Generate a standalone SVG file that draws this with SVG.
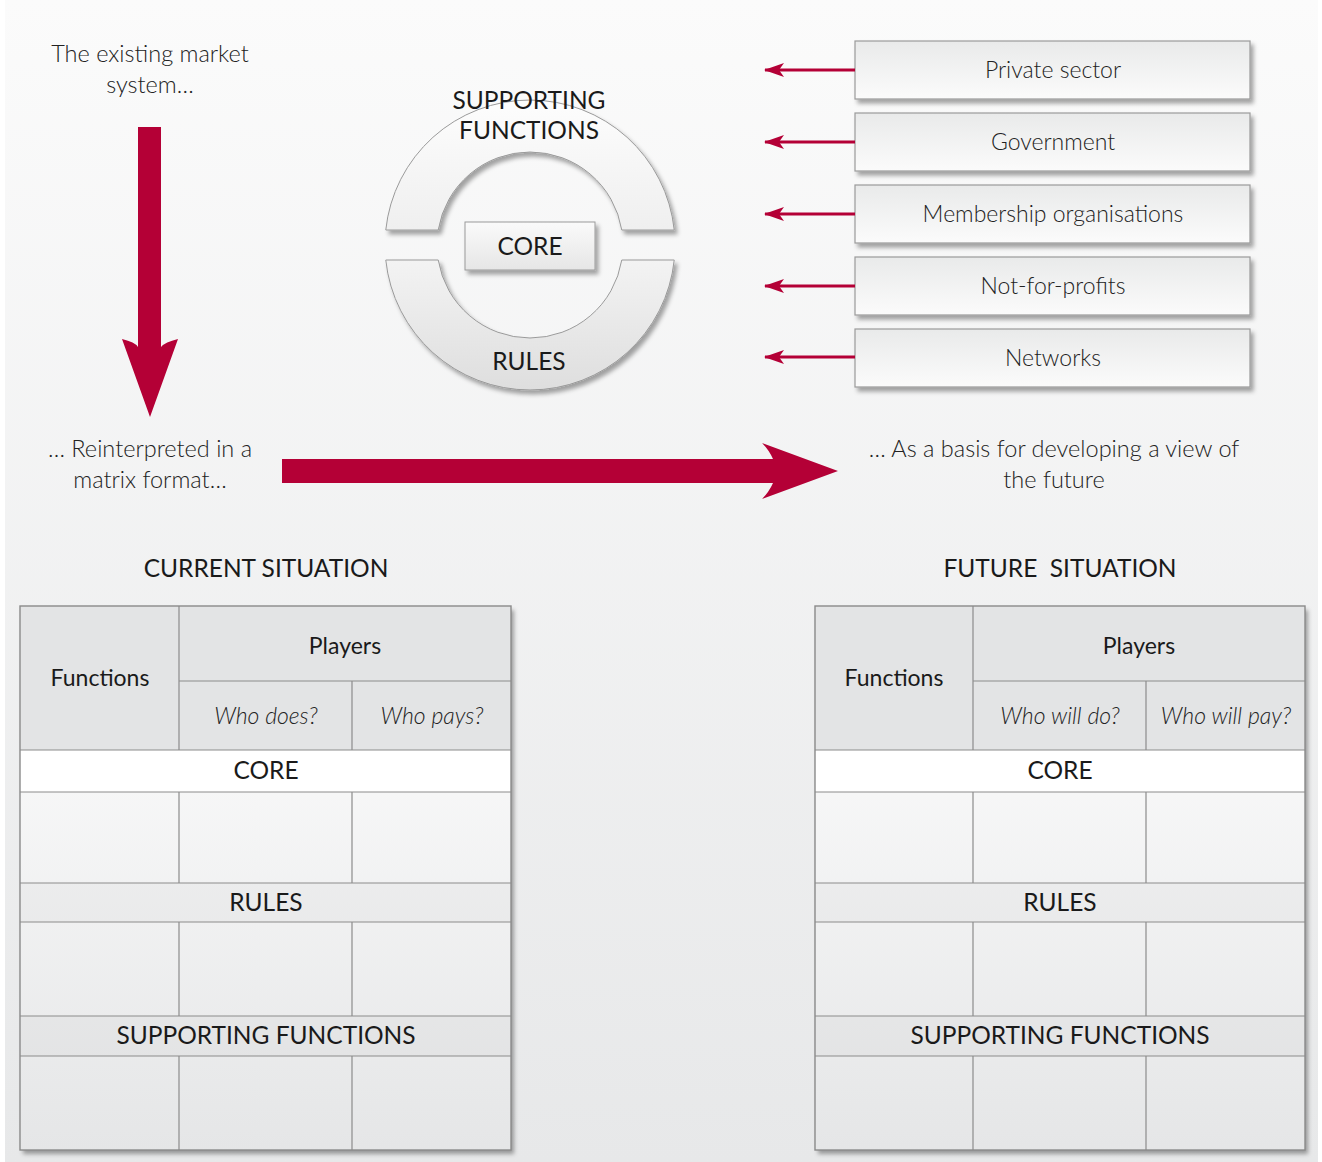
<svg xmlns="http://www.w3.org/2000/svg" width="1322" height="1162" viewBox="0 0 1322 1162">
<defs>
<linearGradient id="bg" x1="0" y1="0" x2="0" y2="1">
<stop offset="0" stop-color="#fbfbfb"/>
<stop offset="1" stop-color="#e7e8e9"/>
</linearGradient>
<linearGradient id="boxg" x1="0" y1="0" x2="0" y2="1">
<stop offset="0" stop-color="#e9eaea"/>
<stop offset="1" stop-color="#fbfbfb"/>
</linearGradient>
<linearGradient id="upg" x1="0" y1="0" x2="0" y2="1">
<stop offset="0" stop-color="#fdfdfd"/>
<stop offset="1" stop-color="#efefef"/>
</linearGradient>
<linearGradient id="lowg" x1="0" y1="0" x2="0" y2="1">
<stop offset="0" stop-color="#f3f3f3"/>
<stop offset="1" stop-color="#dedede"/>
</linearGradient>
<linearGradient id="coreg" x1="0" y1="0" x2="0" y2="1">
<stop offset="0" stop-color="#fafafa"/>
<stop offset="1" stop-color="#e6e6e6"/>
</linearGradient>
<linearGradient id="tabg" gradientUnits="userSpaceOnUse" x1="0" y1="606" x2="0" y2="1150">
<stop offset="0" stop-color="#ffffff"/>
<stop offset="1" stop-color="#e5e6e7"/>
</linearGradient>
<filter id="sh" x="-10%" y="-10%" width="125%" height="130%">
<feDropShadow dx="3" dy="4" stdDeviation="2" flood-color="#000" flood-opacity="0.35"/>
</filter>
<marker id="ah" markerUnits="userSpaceOnUse" markerWidth="20" markerHeight="14" viewBox="0 0 20 14" refX="19" refY="7" orient="auto">
<path d="M0,0 L20,7 L0,14 L5,7 Z" fill="#b40036"/>
</marker>
<style>
.lt{font-family:Lato,"Open Sans","DejaVu Sans",sans-serif;font-weight:300;fill:#222;font-size:23.5px;text-anchor:middle}
.bx{font-family:Lato,"Open Sans","DejaVu Sans",sans-serif;font-weight:300;fill:#222;font-size:23px;text-anchor:middle}
.md{font-family:Lato,"Open Sans","DejaVu Sans",sans-serif;font-weight:400;fill:#1a1a1a;font-size:24.5px;text-anchor:middle}
.hd{font-family:Lato,"Open Sans","DejaVu Sans",sans-serif;font-weight:400;fill:#1a1a1a;font-size:23px;text-anchor:middle}
.it{font-family:Lato,"Open Sans","DejaVu Sans",sans-serif;font-weight:300;font-style:italic;fill:#222;font-size:23px;text-anchor:middle}
.box{fill:url(#boxg);stroke:#9a9a9a;stroke-width:1.2;filter:url(#sh)}
.conn{stroke:#b40036;stroke-width:3;fill:none;marker-end:url(#ah)}
.grid{stroke:#8c8c8c;stroke-width:1.2;fill:none}
.big{fill:#b40036}
</style>
</defs>
<rect x="0" y="0" width="1322" height="1162" fill="#ffffff"/>
<rect x="5" y="0" width="1313" height="1162" fill="url(#bg)"/>

<g id="intro-text">
<text class="lt" x="150" y="62">The existing market</text>
<text class="lt" x="150" y="93">system…</text>
</g>
<g id="reinterpreted-text">
<text class="lt" x="150" y="457">… Reinterpreted in a</text>
<text class="lt" x="150" y="488">matrix format…</text>
</g>
<g id="future-text">
<text class="lt" x="1054" y="457">… As a basis for developing a view of</text>
<text class="lt" x="1054" y="488">the future</text>
</g>

<g id="big-arrows">
<path class="big" d="M138,127 L161,127 L161,347 Q165,342 178,339 L150,417 L122,339 Q135,342 138,347 Z"/>
<path class="big" d="M282,459 L773,459 Q769,450 762,443 L838,471 L762,499 Q769,492 773,483 L282,483 Z"/>
</g>

<g id="market-system">
<g id="supporting-ring" filter="url(#sh)">
<path d="M385.78,230 A145,145 0 0 1 674.22,230 L621.78,230 A93,93 0 0 0 438.22,230 Z" fill="url(#upg)" stroke="#9a9a9a" stroke-width="1"/>
</g>
<g id="rules-ring" filter="url(#sh)">
<path d="M385.78,260 A145,145 0 0 0 674.22,260 L621.78,260 A93,93 0 0 1 438.22,260 Z" fill="url(#lowg)" stroke="#9a9a9a" stroke-width="1"/>
</g>
<text class="md" x="529" y="109">SUPPORTING</text>
<text class="md" x="529" y="139">FUNCTIONS</text>
<text class="md" x="529" y="370">RULES</text>
<g id="core-box">
<rect x="465" y="222" width="130" height="48" fill="url(#coreg)" stroke="#9a9a9a" stroke-width="1" filter="url(#sh)"/>
<text class="md" x="530" y="255">CORE</text>
</g>
</g>

<g id="player-private"><rect class="box" x="855" y="41" width="395" height="58"/><text class="bx" x="1053" y="78">Private sector</text></g>
<g id="player-government"><rect class="box" x="855" y="113" width="395" height="58"/><text class="bx" x="1053" y="150">Government</text></g>
<g id="player-membership"><rect class="box" x="855" y="185" width="395" height="58"/><text class="bx" x="1053" y="222">Membership organisations</text></g>
<g id="player-nfp"><rect class="box" x="855" y="257" width="395" height="58"/><text class="bx" x="1053" y="294">Not-for-profits</text></g>
<g id="player-networks"><rect class="box" x="855" y="329" width="395" height="58"/><text class="bx" x="1053" y="366">Networks</text></g>

<g id="connectors">
<line class="conn" x1="855" y1="70" x2="765" y2="70"/>
<line class="conn" x1="855" y1="142" x2="765" y2="142"/>
<line class="conn" x1="855" y1="214" x2="765" y2="214"/>
<line class="conn" x1="855" y1="286" x2="765" y2="286"/>
<line class="conn" x1="855" y1="357" x2="765" y2="357"/>
</g>

<g id="current-table">
<text class="md" x="266" y="577">CURRENT SITUATION</text>
<rect x="20" y="606" width="491" height="544" fill="url(#tabg)" filter="url(#sh)"/>
<rect x="20" y="606" width="491" height="144" fill="#e3e4e5"/>
<rect x="20" y="750" width="491" height="42" fill="#ffffff"/>
<rect x="20" y="883" width="491" height="39" fill="#000" fill-opacity="0.025"/>
<rect x="20" y="1016" width="491" height="40" fill="#000" fill-opacity="0.025"/>
<path class="grid" d="M179,606 V750 M179,681 H511 M352,681 V750 M20,750 H511 M20,792 H511 M179,792 V883 M352,792 V883 M20,883 H511 M20,922 H511 M179,922 V1016 M352,922 V1016 M20,1016 H511 M20,1056 H511 M179,1056 V1150 M352,1056 V1150"/>
<rect x="20" y="606" width="491" height="544" fill="none" stroke="#8a8a8a" stroke-width="1.4"/>
<text class="hd" x="100" y="686">Functions</text>
<text class="hd" x="345" y="654">Players</text>
<text class="it" x="266" y="724">Who does?</text>
<text class="it" x="432" y="724">Who pays?</text>
<text class="md" x="266" y="779">CORE</text>
<text class="md" x="266" y="911">RULES</text>
<text class="md" x="266" y="1044">SUPPORTING FUNCTIONS</text>
</g>

<g id="future-table">
<text class="md" x="1060" y="577" xml:space="preserve">FUTURE  SITUATION</text>
<rect x="815" y="606" width="490" height="544" fill="url(#tabg)" filter="url(#sh)"/>
<rect x="815" y="606" width="490" height="144" fill="#e3e4e5"/>
<rect x="815" y="750" width="490" height="42" fill="#ffffff"/>
<rect x="815" y="883" width="490" height="39" fill="#000" fill-opacity="0.025"/>
<rect x="815" y="1016" width="490" height="40" fill="#000" fill-opacity="0.025"/>
<path class="grid" d="M973,606 V750 M973,681 H1305 M1146,681 V750 M815,750 H1305 M815,792 H1305 M973,792 V883 M1146,792 V883 M815,883 H1305 M815,922 H1305 M973,922 V1016 M1146,922 V1016 M815,1016 H1305 M815,1056 H1305 M973,1056 V1150 M1146,1056 V1150"/>
<rect x="815" y="606" width="490" height="544" fill="none" stroke="#8a8a8a" stroke-width="1.4"/>
<text class="hd" x="894" y="686">Functions</text>
<text class="hd" x="1139" y="654">Players</text>
<text class="it" x="1060" y="724">Who will do?</text>
<text class="it" x="1226" y="724">Who will pay?</text>
<text class="md" x="1060" y="779">CORE</text>
<text class="md" x="1060" y="911">RULES</text>
<text class="md" x="1060" y="1044">SUPPORTING FUNCTIONS</text>
</g>
</svg>
